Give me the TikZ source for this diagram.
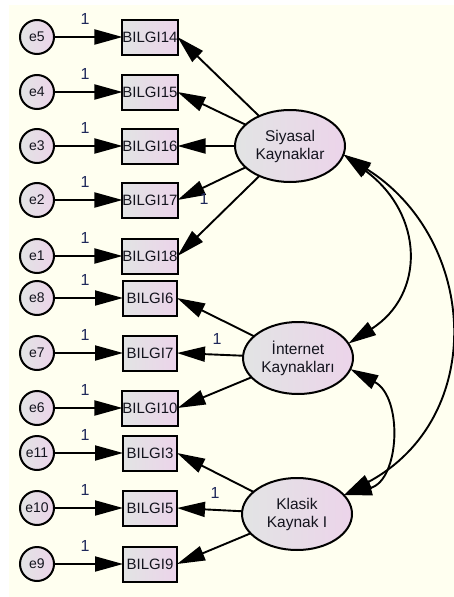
\documentclass[tikz,border=0pt]{standalone}
\usepackage{fontspec}
\setmainfont{Liberation Sans}
\usetikzlibrary{arrows.meta,shapes.geometric}
\definecolor{bgcream}{RGB}{255,255,240}
\definecolor{fillgrey}{RGB}{226,228,228}
\definecolor{fillpink}{RGB}{236,212,234}
\definecolor{onecol}{RGB}{30,40,90}
\definecolor{inkcol}{RGB}{20,20,30}

\begin{document}
\begin{tikzpicture}[x=1pt,y=-1pt,
  >={Triangle[length=28pt,width=15pt]},
  every node/.style={inner sep=0pt, outer sep=0pt},
  obs/.style={draw, line width=2pt, minimum width=54pt, minimum height=35pt,
    left color=fillgrey, right color=fillpink, text=inkcol,
    font=\fontsize{15}{15}\selectfont},
  err/.style={circle, draw, line width=2pt, minimum size=34pt,
    left color=fillgrey, right color=fillpink, text=inkcol,
    font=\fontsize{14}{14}\selectfont},
  lat/.style={ellipse, draw, line width=2pt, minimum width=110pt,
    minimum height=72pt, align=center, left color=fillgrey,
    right color=fillpink, text=inkcol, font=\fontsize{15.5}{18}\selectfont},
  regpath/.style={line width=1.9pt, ->},
  covpath/.style={line width=1.9pt, <->},
  one/.style={text=onecol, font=\fontsize{16}{16}\selectfont}]

\useasboundingbox (0,0) rectangle (454,597);
\fill[bgcream] (9,5) rectangle (454,597);

% latent factors
\node[lat] (siy) at (290,146) {Siyasal\\Kaynaklar};
\node[lat] (int) at (298,358) {İnternet\\Kaynakları};
\node[lat] (kla) at (297,514) {Klasik\\Kaynak I};

% indicators and their error terms
\foreach \nm/\lab/\err/\yy in {
    b14/BILGI14/e5/37, b15/BILGI15/e4/92, b16/BILGI16/e3/146,
    b17/BILGI17/e2/200, b18/BILGI18/e1/256,
    b6/BILGI6/e8/298, b7/BILGI7/e7/353, b10/BILGI10/e6/408,
    b3/BILGI3/e11/453, b5/BILGI5/e10/508, b9/BILGI9/e9/564} {
  \node[obs] (\nm) at (150,\yy) {\lab};
  \node[err] (\err) at (37,\yy) {\err};
  \draw[regpath] (\err) -- (\nm);
  \node[one] (one-\err) at (85,\yy-18) {1};
}

% factor loadings
\foreach \b in {b14,b15,b16,b17,b18} \draw[regpath] (siy) -- (\b.east);
\foreach \b in {b6,b7,b10} \draw[regpath] (int) -- (\b.east);
\foreach \b in {b3,b5,b9} \draw[regpath] (kla) -- (\b.east);

\node[one] (one-siy) at (204,199) {1};
\node[one] (one-int) at (217,339) {1};
\node[one] (one-kla) at (215,493) {1};

% covariances
\draw[covpath] (siy.-9) .. controls +(81,60) and +(77,-49) .. (int.16);
\draw[covpath] (siy.-9) .. controls +(135,85) and +(144,-77) .. (kla.22);
\draw[covpath] (int.-12) .. controls +(53,28) and +(56,-15) .. (kla.22);
\end{tikzpicture}
\end{document}
